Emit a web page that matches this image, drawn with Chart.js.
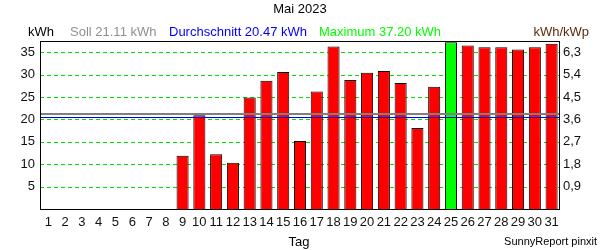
<!DOCTYPE html>
<html>
<head>
<meta charset="utf-8">
<script src="https://cdn.jsdelivr.net/npm/chart.js@4"></script>
<style>
  html, body { margin: 0; padding: 0; background: #fff; }
  #wrap { width: 600px; height: 250px; }
</style>
</head>
<body>
<div id="wrap"><canvas id="chart"></canvas></div>
<script>
// data
const days = ['1','2','3','4','5','6','7','8','9','10','11','12','13','14','15','16',
              '17','18','19','20','21','22','23','24','25','26','27','28','29','30','31'];
const yieldKwh = [null, null, null, null, null, null, null, null,
                  11.9, 20.9, 12.2, 10.3, 24.9, 28.6, 30.6, 15.2,
                  26.2, 36.3, 28.8, 30.4, 30.8, 28.1, 18.1, 27.3,
                  37.2, 36.5, 36.1, 36.1, 35.6, 36.1, 36.9];
const sollKwh = 21.11;
const avgKwh = 20.47;
const maxKwh = 37.20;
const leftTicks = [5, 10, 15, 20, 25, 30, 35];
const rightTicks = ['0,9', '1,8', '2,7', '3,6', '4,5', '5,4', '6,3'];

const FONT = '"Liberation Sans", Arial, sans-serif';

const barColors = yieldKwh.map(v => v === maxKwh ? '#00ff00' : '#ff0000');

//green dashed grid under the bars
const grid = {
  id: 'dashGrid',
  beforeDatasetsDraw(chart) {
    const { ctx, chartArea: a, scales } = chart;
    ctx.save();
    ctx.strokeStyle = '#00e000';
    ctx.lineWidth = 1;
    ctx.setLineDash([4, 3]);
    leftTicks.forEach(v => {
      const yy = Math.round(scales.y.getPixelForValue(v)) + 0.5;
      ctx.beginPath(); ctx.moveTo(a.left, yy); ctx.lineTo(a.right, yy); ctx.stroke();
    });
    ctx.restore();
  }
};

//header texts, frame and the Soll / Durchschnitt lines
const extras = {
  id: 'extras',
  afterDatasetsDraw(chart) {
    const { ctx, chartArea: a, scales } = chart;
    const y = scales.y;

    ctx.save();
    ctx.lineWidth = 2;
    ctx.strokeStyle = '#808080';
    const ys = Math.round(y.getPixelForValue(sollKwh));
    ctx.beginPath(); ctx.moveTo(a.left, ys); ctx.lineTo(a.right, ys); ctx.stroke();

    ctx.lineWidth = 1;
    ctx.strokeStyle = '#0000ff';
    const ya = Math.round(y.getPixelForValue(avgKwh)) + 0.5;
    ctx.beginPath(); ctx.moveTo(a.left, ya); ctx.lineTo(a.right, ya); ctx.stroke();

    ctx.strokeStyle = '#000';
    ctx.strokeRect(Math.round(a.left) + 0.5, Math.round(a.top) + 0.5,
                   Math.round(a.right - a.left) - 1, Math.round(a.bottom - a.top));
    ctx.restore();
  },
  afterDraw(chart) {
    const { ctx } = chart;
    ctx.save();
    ctx.textBaseline = 'middle';
    ctx.font = '13px ' + FONT;
    ctx.textAlign = 'center';
    ctx.fillStyle = '#000';
    ctx.fillText('Mai 2023', 300, 9);

    ctx.textAlign = 'left';
    ctx.fillStyle = '#000';
    ctx.fillText('kWh', 28, 32);
    ctx.fillStyle = '#909090';
    ctx.fillText('Soll ' + sollKwh.toFixed(2) + ' kWh', 70, 32);
    ctx.fillStyle = '#0000ff';
    ctx.fillText('Durchschnitt ' + avgKwh.toFixed(2) + ' kWh', 169, 32);
    ctx.fillStyle = '#00ff00';
    ctx.fillText('Maximum ' + maxKwh.toFixed(2) + ' kWh', 319, 32);
    ctx.fillStyle = '#5a2a0a';
    ctx.textAlign = 'right';
    ctx.fillText('kWh/kWp', 589, 32);

    ctx.fillStyle = '#000';
    ctx.textAlign = 'center';
    ctx.fillText('Tag', 299, 242);
    ctx.font = '11px ' + FONT;
    ctx.textAlign = 'right';
    ctx.fillText('SunnyReport pinxit', 597, 242);
    ctx.restore();
  }
};

const onlyTicks = scale => {
  scale.ticks = leftTicks.map(v => ({ value: v }));
};

new Chart(document.getElementById('chart'), {
  type: 'bar',
  data: {
    labels: days,
    datasets: [{
      data: yieldKwh,
      backgroundColor: barColors,
      borderColor: '#000',
      borderWidth: 1,
      borderSkipped: 'bottom',
      barPercentage: 0.72,
      categoryPercentage: 1
    }]
  },
  options: {
    responsive: true,
    maintainAspectRatio: false,
    animation: false,
    layout: { padding: { top: 41, left: 0, right: 0, bottom: 0 } },
    plugins: {
      legend: { display: false },
      tooltip: { enabled: false }
    },
    scales: {
      x: {
        grid: { display: false, drawTicks: false },
        border: { display: false },
        ticks: {
          color: '#111', padding: 6, maxRotation: 0, autoSkip: false,
          font: { family: FONT, size: 13 }
        },
        afterFit: s => { s.height = 41; }
      },
      y: {
        position: 'left',
        min: 0, max: 37.5,
        afterBuildTicks: onlyTicks,
        grid: { display: false, drawTicks: false },
        border: { display: false },
        ticks: {
          color: '#111', padding: 5,
          font: { family: FONT, size: 13 }
        },
        afterFit: s => { s.width = 40; }
      },
      y2: {
        position: 'right',
        min: 0, max: 37.5,
        afterBuildTicks: onlyTicks,
        grid: { display: false, drawTicks: false },
        border: { display: false },
        ticks: {
          color: '#111', padding: 3,
          font: { family: FONT, size: 13 },
          callback: (v, i) => rightTicks[i]
        },
        afterFit: s => { s.width = 40; }
      }
    }
  },
  plugins: [grid, extras]
});
</script>
</body>
</html>
